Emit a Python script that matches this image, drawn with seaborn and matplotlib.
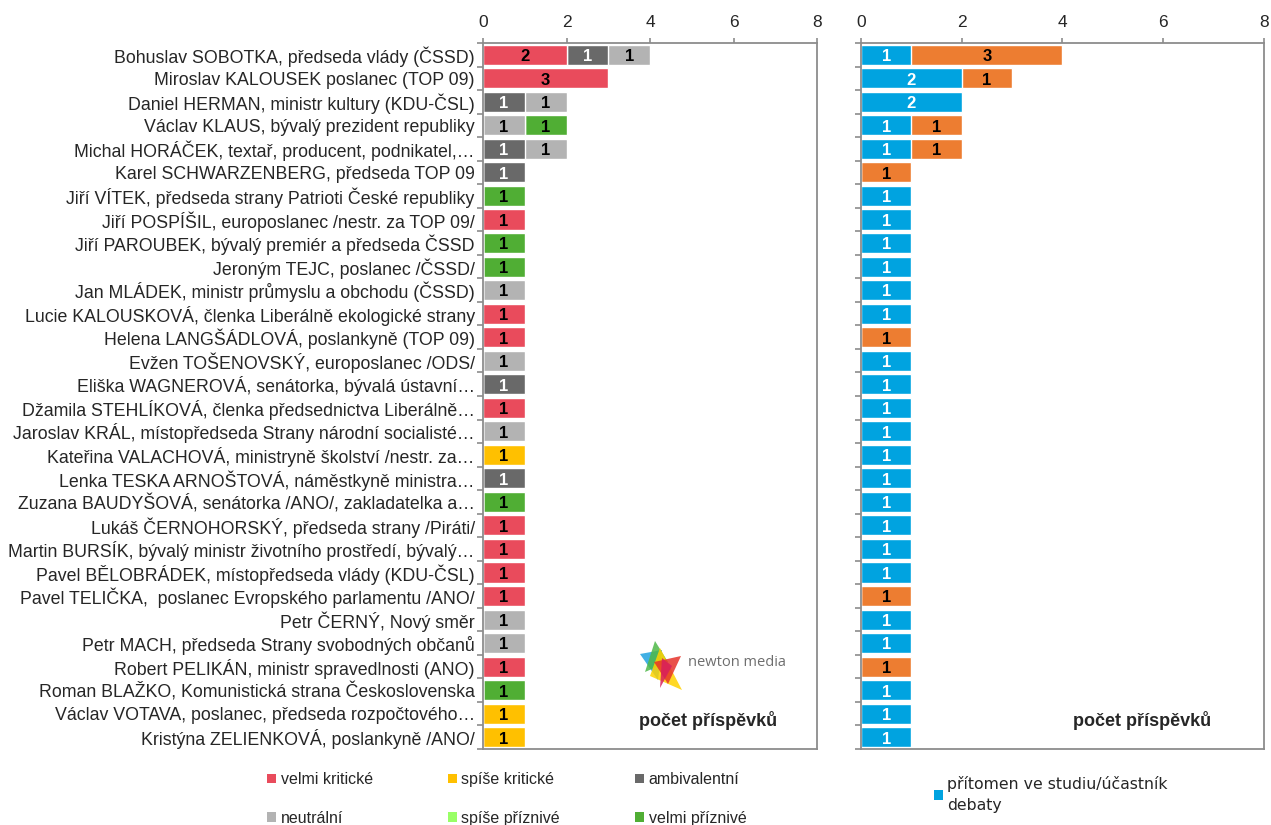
import numpy as np
import pandas as pd
import matplotlib.pyplot as plt
import seaborn as sns
from matplotlib.patches import Patch, Polygon

names = [
    "Bohuslav SOBOTKA, předseda vlády (ČSSD)",
    "Miroslav KALOUSEK poslanec (TOP 09)",
    "Daniel HERMAN, ministr kultury (KDU-ČSL)",
    "Václav KLAUS, bývalý prezident republiky",
    "Michal HORÁČEK, textař, producent, podnikatel,…",
    "Karel SCHWARZENBERG, předseda TOP 09",
    "Jiří VÍTEK, předseda strany Patrioti České republiky",
    "Jiří POSPÍŠIL, europoslanec /nestr. za TOP 09/",
    "Jiří PAROUBEK, bývalý premiér a předseda ČSSD",
    "Jeroným TEJC, poslanec /ČSSD/",
    "Jan MLÁDEK, ministr průmyslu a obchodu (ČSSD)",
    "Lucie KALOUSKOVÁ, členka Liberálně ekologické strany",
    "Helena LANGŠÁDLOVÁ, poslankyně (TOP 09)",
    "Evžen TOŠENOVSKÝ, europoslanec /ODS/",
    "Eliška WAGNEROVÁ, senátorka, bývalá ústavní…",
    "Džamila STEHLÍKOVÁ, členka předsednictva Liberálně…",
    "Jaroslav KRÁL, místopředseda Strany národní socialisté…",
    "Kateřina VALACHOVÁ, ministryně školství /nestr. za…",
    "Lenka TESKA ARNOŠTOVÁ, náměstkyně ministra…",
    "Zuzana BAUDYŠOVÁ, senátorka /ANO/, zakladatelka a…",
    "Lukáš ČERNOHORSKÝ, předseda strany /Piráti/",
    "Martin BURSÍK, bývalý ministr životního prostředí, bývalý…",
    "Pavel BĚLOBRÁDEK, místopředseda vlády (KDU-ČSL)",
    "Pavel TELIČKA,  poslanec Evropského parlamentu /ANO/",
    "Petr ČERNÝ, Nový směr",
    "Petr MACH, předseda Strany svobodných občanů",
    "Robert PELIKÁN, ministr spravedlnosti (ANO)",
    "Roman BLAŽKO, Komunistická strana Československa",
    "Václav VOTAVA, poslanec, předseda rozpočtového…",
    "Kristýna ZELIENKOVÁ, poslankyně /ANO/",
]

# tón příspěvků (left panel)
velmi_kriticke = [2, 3, 0, 0, 0, 0, 0, 1, 0, 0, 0, 1, 1, 0, 0, 1, 0, 0, 0, 0, 1, 1, 1, 1, 0, 0, 1, 0, 0, 0]
spise_kriticke = [0, 0, 0, 0, 0, 0, 0, 0, 0, 0, 0, 0, 0, 0, 0, 0, 0, 1, 0, 0, 0, 0, 0, 0, 0, 0, 0, 0, 1, 1]
ambivalentni   = [1, 0, 1, 0, 1, 1, 0, 0, 0, 0, 0, 0, 0, 0, 1, 0, 0, 0, 1, 0, 0, 0, 0, 0, 0, 0, 0, 0, 0, 0]
neutralni      = [1, 0, 1, 1, 1, 0, 0, 0, 0, 0, 1, 0, 0, 1, 0, 0, 1, 0, 0, 0, 0, 0, 0, 0, 1, 1, 0, 0, 0, 0]
spise_priznive = [0, 0, 0, 0, 0, 0, 0, 0, 0, 0, 0, 0, 0, 0, 0, 0, 0, 0, 0, 0, 0, 0, 0, 0, 0, 0, 0, 0, 0, 0]
velmi_priznive = [0, 0, 0, 1, 0, 0, 1, 0, 1, 1, 0, 0, 0, 0, 0, 0, 0, 0, 0, 1, 0, 0, 0, 0, 0, 0, 0, 1, 0, 0]

# role v příspěvku (right panel)
pritomen = [1, 2, 2, 1, 1, 0, 1, 1, 1, 1, 1, 1, 0, 1, 1, 1, 1, 1, 1, 1, 1, 1, 1, 0, 1, 1, 0, 1, 1, 1]
citovan  = [3, 1, 0, 1, 1, 1, 0, 0, 0, 0, 0, 0, 1, 0, 0, 0, 0, 0, 0, 0, 0, 0, 0, 1, 0, 0, 1, 0, 0, 0]

tone_labels = ["velmi kritické", "spíše kritické", "ambivalentní",
               "neutrální", "spíše příznivé", "velmi příznivé"]
tone_colors = ["#E94B5C", "#FFC000", "#696969", "#B3B3B3", "#99FF66", "#50AE34"]
tone_text = ["black", "black", "white", "black", "black", "black"]

role_labels = ["přítomen ve studiu/účastník debaty", "citován"]
role_colors = ["#00A3E0", "#ED7D31"]
role_text = ["white", "black"]

left_df = pd.DataFrame(dict(zip(tone_labels, [velmi_kriticke, spise_kriticke, ambivalentni,
                                               neutralni, spise_priznive, velmi_priznive])))
left_df["jmeno"] = names
right_df = pd.DataFrame(dict(zip(role_labels, [pritomen, citovan])))
right_df["jmeno"] = names

sns.set_style("white")
plt.rcParams["font.family"] = ["Liberation Sans", "DejaVu Sans"]

W, H = 1271, 825
fig = plt.figure(figsize=(W / 100, H / 100), dpi=100)
ax1 = fig.add_axes([483 / W, 1 - 749 / H, 334 / W, 706 / H])
ax2 = fig.add_axes([861 / W, 1 - 749 / H, 403 / W, 706 / H])

edge = "#8C8C8C"


def stacked(ax, df, cols, colors, txt_colors, title_x):
    cum = df[cols].cumsum(axis=1)
    # draw longest cumulative bars first, shorter ones on top
    for col, color in reversed(list(zip(cols, colors))):
        sns.barplot(x=cum[col], y=df["jmeno"], color=color, orient="h", width=0.85,
                    saturation=1, errorbar=None, ax=ax)
    for i in range(len(df)):
        for col, tc in zip(cols, txt_colors):
            v = df[col].iloc[i]
            if v > 0:
                ax.text(cum[col].iloc[i] - v / 2, i + 0.08, str(v), ha="center", va="center",
                        color=tc, fontsize=12, fontweight="bold")
    ax.set_xlim(0, 8)
    ax.set_ylim(len(df) - 0.5, -0.5)
    ax.set_xlabel("")
    ax.set_ylabel("")
    ax.xaxis.tick_top()
    ax.set_xticks([0, 2, 4, 6, 8])
    ax.tick_params(axis="x", which="major", top=True, bottom=False, length=3.5, width=1.2,
                   color=edge, labelsize=12.5, pad=6)
    ax.set_yticks(np.arange(-0.5, len(df), 1), minor=True)
    ax.tick_params(axis="y", which="minor", left=True, length=4.5, width=1.2, color=edge)
    ax.tick_params(axis="y", which="major", left=False, length=0, pad=6)
    for s in ax.spines.values():
        s.set_visible(True)
        s.set_color(edge)
        s.set_linewidth(1.3)
    ax.text(title_x, 0.041, "počet příspěvků", transform=ax.transAxes, ha="center",
            va="center", fontsize=13, fontweight="bold")


stacked(ax1, left_df, tone_labels, tone_colors, tone_text, 0.675)
ax1.tick_params(axis="y", which="major", labelsize=12.8)

stacked(ax2, right_df, role_labels, role_colors, role_text, 0.697)
ax2.tick_params(axis="y", which="major", labelleft=False)

# newton media logo (approximation)
def fp(x, y):
    return (x / W, 1 - y / H)

logo = [
    ([fp(640, 654), fp(662, 650), fp(658, 680)], "#1FA3E0"),
    ([fp(655, 641), fp(668, 662), fp(645, 672)], "#4DB848"),
    ([fp(660, 648), fp(682, 690), fp(650, 676)], "#FFD200"),
    ([fp(681, 656), fp(668, 684), fp(654, 662)], "#E6332A"),
    ([fp(662, 658), fp(672, 666), fp(660, 688)], "#D81F5C"),
]
for pts, c in logo:
    fig.add_artist(Polygon(pts, closed=True, transform=fig.transFigure, facecolor=c,
                           alpha=0.85, edgecolor="none"))
fig.text(688 / W, 1 - 663 / H, "newton media", fontsize=10.5, color="#6E6E6E",
         va="center", ha="left", family=["Open Sans", "DejaVu Sans"])

# legends
tone_handles = [Patch(facecolor=c, edgecolor="none") for c in tone_colors]
order = [0, 3, 1, 4, 2, 5]
fig.legend([tone_handles[i] for i in order], [tone_labels[i] for i in order], ncol=3,
           loc="upper left", bbox_to_anchor=(267 / W, 1 - 772 / H), frameon=False,
           fontsize=11.5, handlelength=0.55, handleheight=0.55, handletextpad=0.3,
           labelspacing=1.5, columnspacing=4.7, borderaxespad=0, borderpad=0)

leg2 = fig.legend([Patch(facecolor=role_colors[0], edgecolor="none")],
                  ["přítomen ve studiu/účastník\ndebaty"], loc="upper left",
                  bbox_to_anchor=(934 / W, 1 - 776 / H), frameon=False,
                  prop={"family": ["DejaVu Sans"], "size": 11.3}, handlelength=0.6,
                  handleheight=0.6, handletextpad=0.25, borderaxespad=0, borderpad=0)
leg2.get_texts()[0].set_linespacing(1.5)

fig.savefig("out.png", dpi=100)
